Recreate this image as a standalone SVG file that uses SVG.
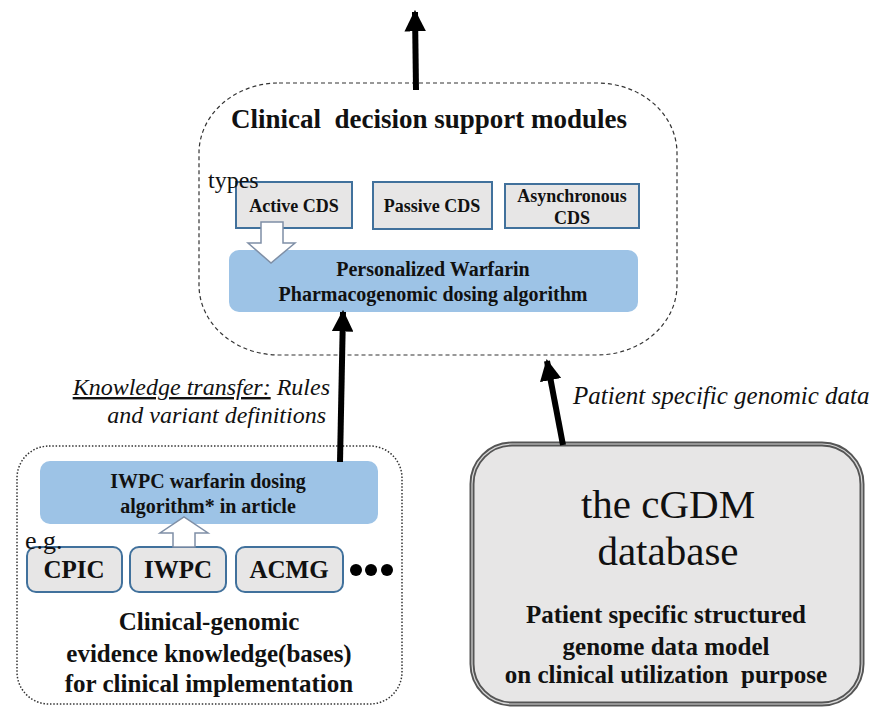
<svg xmlns="http://www.w3.org/2000/svg" width="877" height="707" viewBox="0 0 877 707" font-family="'Liberation Serif', 'Times New Roman', serif">
<style>
text{fill:#111;}
.b{font-weight:bold;}
.c{text-anchor:middle;}
.i{font-style:italic;}
.gray{fill:#e7e6e6;stroke:#41719c;stroke-width:2;}
.blue{fill:#9dc3e6;stroke:none;}
.hollow{fill:#fff;stroke:#7f8fa6;stroke-width:1.5;}
.conn{stroke:#000;stroke-width:6;fill:none;}
</style>
<defs>
<marker id="ah" viewBox="0 0 10 10" refX="9" refY="5" markerWidth="3.6" markerHeight="3.6" orient="auto" markerUnits="strokeWidth">
<path d="M0,0 L10,5 L0,10 z" fill="#000"/>
</marker>
</defs>
<rect width="877" height="707" fill="#fff"/>

<g id="cds-modules">
<rect x="199" y="83" width="478" height="272" rx="80" ry="70" fill="none" stroke="#333" stroke-width="1.2" stroke-dasharray="4,3"/>
<text x="429" y="128" class="b c" font-size="27" xml:space="preserve">Clinical  decision support modules</text>
</g>

<g id="active-cds">
<rect x="236" y="182" width="116" height="46" class="gray"/>
<text x="294" y="212" class="b c" font-size="18">Active CDS</text>
</g>
<g id="passive-cds">
<rect x="373" y="182" width="119" height="47" class="gray"/>
<text x="432" y="212" class="b c" font-size="18">Passive CDS</text>
</g>
<g id="async-cds">
<rect x="505" y="184" width="134" height="44" class="gray"/>
<text x="572" y="202" class="b c" font-size="18">Asynchronous</text>
<text x="572" y="224" class="b c" font-size="18">CDS</text>
</g>
<g id="types-label">
<text x="208" y="188" font-size="24">types</text>
</g>

<g id="personalized-warfarin">
<rect x="229" y="250" width="409" height="62" rx="10" class="blue"/>
<text x="433" y="276" class="b c" font-size="20">Personalized Warfarin</text>
<text x="433" y="301" class="b c" font-size="20">Pharmacogenomic dosing algorithm</text>
</g>

<g id="evidence-kb">
<rect x="17" y="446" width="385" height="258" rx="32" fill="none" stroke="#333" stroke-width="1.5" stroke-dasharray="1.5,1.8"/>
<text x="209" y="630" class="b c" font-size="25">Clinical-genomic</text>
<text x="209" y="662" class="b c" font-size="25">evidence knowledge(bases)</text>
<text x="209" y="692" class="b c" font-size="25">for clinical implementation</text>
<circle cx="356" cy="570" r="6" fill="#000"/>
<circle cx="371" cy="570" r="6" fill="#000"/>
<circle cx="387" cy="570" r="6" fill="#000"/>
</g>

<g id="iwpc-algorithm">
<rect x="40" y="461" width="338" height="63" rx="10" class="blue"/>
<text x="208" y="488" class="b c" font-size="20">IWPC warfarin dosing</text>
<text x="208" y="513" class="b c" font-size="20">algorithm* in article</text>
</g>

<g id="cpic">
<rect x="27" y="547" width="95" height="45" rx="9" class="gray"/>
<text x="74" y="578" class="b c" font-size="25">CPIC</text>
</g>
<g id="iwpc">
<rect x="130" y="547" width="96" height="45" rx="9" class="gray"/>
<text x="178" y="578" class="b c" font-size="25">IWPC</text>
</g>
<g id="acmg">
<rect x="236" y="547" width="107" height="45" rx="9" class="gray"/>
<text x="289" y="578" class="b c" font-size="25">ACMG</text>
</g>
<g id="eg-label">
<text x="25" y="549" font-size="26">e.g.</text>
</g>

<g id="cgdm">
<rect x="472" y="444" width="390" height="260" rx="40" fill="#e7e6e6" stroke="#555" stroke-width="5"/>
<rect x="472" y="444" width="390" height="260" rx="40" fill="none" stroke="#d8d8d8" stroke-width="1.2"/>
<text x="668" y="518" class="c" font-size="41">the cGDM</text>
<text x="668" y="565" class="c" font-size="41">database</text>
<text x="666" y="623" class="b c" font-size="25">Patient specific structured</text>
<text x="666" y="655" class="b c" font-size="25">genome data model</text>
<text x="666" y="683" class="b c" font-size="25" xml:space="preserve">on clinical utilization  purpose</text>
</g>

<g id="connectors">
<line x1="416" y1="90" x2="415" y2="12" class="conn" marker-end="url(#ah)"/>
<line x1="340" y1="462" x2="343" y2="312" class="conn" marker-end="url(#ah)"/>
<line x1="563" y1="445" x2="547" y2="361" class="conn" marker-end="url(#ah)"/>
<path d="M261,222 H283 V243 H295 L271,263 L248,243 H261 Z" class="hollow"/>
<path d="M173,547 V533 H160 L184,517 L208,533 H195 V547 Z" class="hollow"/>
<text x="330" y="395" class="i" font-size="24" text-anchor="end"><tspan text-decoration="underline">Knowledge transfer:</tspan> Rules</text>
<text x="326" y="423" class="i" font-size="24" text-anchor="end">and variant definitions</text>
<text x="573" y="404" class="i" font-size="25">Patient specific genomic data</text>
</g>
</svg>
